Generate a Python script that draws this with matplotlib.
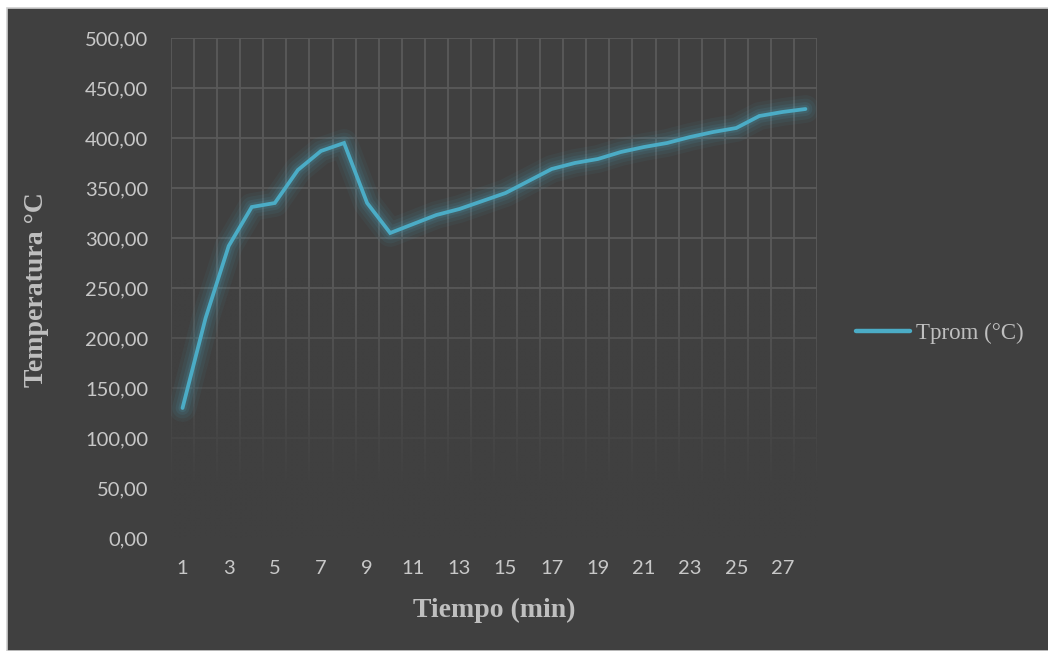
import numpy as np
import matplotlib
matplotlib.use("Agg")
import matplotlib.pyplot as plt
from matplotlib.patches import Rectangle
from matplotlib.colors import to_rgb

# data
tiempo = list(range(1, 29))
tprom = [130, 220, 292, 331, 335, 368, 387, 395, 335, 305,
         314, 323, 329, 337, 345, 357, 369, 375, 379, 386,
         391, 395, 401, 406, 410, 422, 426, 429]
yticks = [0, 50, 100, 150, 200, 250, 300, 350, 400, 450, 500]
xticks = list(range(1, 29, 2))

bg = "#404040"
grid_c = "#5a5a5a"
line_c = "#4bacc6"
txt_c = "#c8c8c8"
title_c = "#bfbfbf"

fig = plt.figure(figsize=(10.48, 6.51), dpi=100, facecolor="white")
# dark chart area with thin border, white strip at top/left
fig.patches.append(Rectangle((7 / 1048, 0), 1, 1 - 8 / 651, transform=fig.transFigure,
                             facecolor=bg, edgecolor="#d0d0d0", lw=1.2, zorder=-10))

ax = fig.add_axes([171 / 1048, 1 - 538 / 651, (817 - 171) / 1048, 500 / 651])
ax.set_facecolor("none")
for s in ax.spines.values():
    s.set_visible(False)

# gridlines: horizontal on values, vertical between categories
for v in yticks:
    ax.axhline(v, color=grid_c, lw=1.3, zorder=1)
for b in np.arange(0.5, 29, 1):
    ax.axvline(b, color=grid_c, lw=1.3, zorder=1)

# fade the grid towards the bottom
r, g, b_ = to_rgb(bg)
grad = np.zeros((200, 2, 4))
yy = np.linspace(0, 500, 200)
alpha = np.clip((260 - yy) / (260 - 50), 0, 1)
grad[..., 0], grad[..., 1], grad[..., 2] = r, g, b_
grad[..., 3] = alpha[:, None]
ax.imshow(grad, extent=[0.4, 28.6, -2, 502], origin="lower", aspect="auto", zorder=2,
          interpolation="bilinear")

# glow
for w, a in [(20, 0.06), (15, 0.08), (10, 0.1), (6, 0.14)]:
    ax.plot(tiempo, tprom, color=line_c, lw=w, alpha=a, solid_capstyle="round",
            solid_joinstyle="round", zorder=3)
ax.plot(tiempo, tprom, color=line_c, lw=2.7, solid_capstyle="round",
        solid_joinstyle="miter", zorder=4, label="Tprom (°C)")

ax.set_xlim(0.5, 28.5)
ax.set_ylim(0, 500)
ax.set_yticks(yticks)
ax.set_yticklabels([f"{v:.2f}".replace(".", ",") for v in yticks])
ax.set_xticks(xticks)
ax.set_xticklabels([str(v) for v in xticks])
ax.tick_params(length=0, colors=txt_c, labelsize=14.5)
ax.tick_params(axis="y", pad=16.5)
ax.tick_params(axis="x", pad=16)
for lab in ax.get_xticklabels() + ax.get_yticklabels():
    lab.set_family("Lato")

fig.text(494 / 1048, 1 - 610 / 651, "Tiempo (min)", ha="center", va="center",
         family="Liberation Serif", weight="bold", size=20, color=title_c)
fig.text(37 / 1048, 1 - 290 / 651, "Temperatura °C", ha="center", va="center",
         rotation=90, family="Liberation Serif", weight="bold", size=20, color=title_c)

leg = ax.legend(loc="center left", bbox_to_anchor=(856 / 1048, 1 - 333 / 651),
                bbox_transform=fig.transFigure, frameon=False, handlelength=2.35,
                handletextpad=0.26, borderpad=0, borderaxespad=0,
                prop={"family": "Liberation Serif", "size": 16.5})
for t in leg.get_texts():
    t.set_color(title_c)
leg.get_lines()[0].set_linewidth(3.2)

fig.savefig("out.png", dpi=100, facecolor=fig.get_facecolor())
